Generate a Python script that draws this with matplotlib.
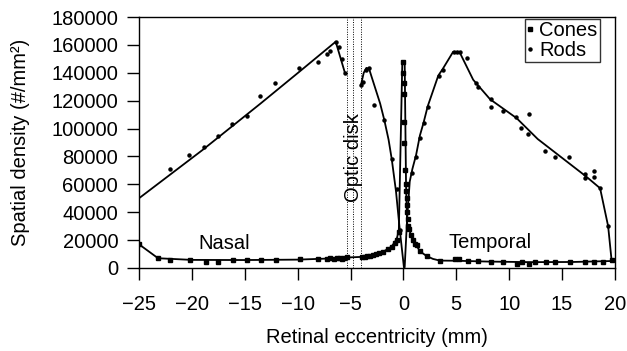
import numpy as np
import matplotlib
matplotlib.use('Agg')
import matplotlib.pyplot as plt

plt.rcParams['font.family'] = ['Liberation Sans', 'DejaVu Sans']

# fitted curves (nan breaks the rod curve across the optic disk)
rods_line_x = [-25, -19, -13.5, -9.8, -6.4, -5.53, np.nan, -4.02, -3.75, -3.5, -3.25, -3.0, -2.2, -1.8,
               -1.4, -1.1, -0.7, -0.35, 0.05, 0.12, 0.35, 0.6, 0.85, 1.2, 1.56, 1.9, 2.3, 3.3, 3.7,
               4.7, 5.3, 6.6, 8.2, 10.7, 12.7, 15.0, 17.3, 18.6, 19.36, 19.7]
rods_line_y = [50000, 84600, 118000, 141000, 162300, 140000, np.nan, 131000, 140000, 143500, 143000, 137000,
               118000, 106000, 92000, 78000, 55000, 28000, 500, 500, 35000, 62000, 71000, 81000, 95000,
               104000, 116000, 138000, 142500, 155000, 155000, 135000, 121000, 107500, 92500, 79000,
               65500, 57200, 30000, 4500]

cones_line_x = [-25, -23.2, -20, -15, -10, -7, -5.4, -3.5, -2.85, -1.9, -1.12, -0.64, -0.43, -0.1, 0.12,
                0.25, 0.35, 0.77, 1.25, 1.56, 2.19, 2.8, 3.45, 5, 8, 12, 16, 19.68]
cones_line_y = [17000, 7000, 5800, 5700, 6000, 6800, 7500, 8100, 9300, 11700, 15300, 20500, 27300, 148500,
                148500, 60000, 32000, 22500, 16000, 12000, 8600, 6500, 5300, 5200, 4600, 4200, 4300, 5000]

# measured points
rods_x = [-22.07, -20.24, -18.86, -17.56, -16.18, -14.82, -13.56, -12.17, -9.85, -8.11, -7.26, -6.95,
          -6.41, -6.1, -5.84, -5.53, -4.02, -3.8, -3.54, -3.23, -2.79, -1.81, -1.12, -0.64, -0.33,
          0.77, 1.18, 1.56, 1.94, 2.32, 3.39, 3.7, 4.77, 5.03, 5.34, 5.97, 6.82, 7.01, 8.24, 8.24,
          9.43, 10.63, 11.08, 11.86, 11.8, 13.37, 14.3, 15.67, 17.15, 17.22, 18.0, 18.0, 18.58, 19.36]
rods_y = [70800, 80800, 87000, 94700, 103500, 109000, 123600, 132700, 143600, 147500, 153700, 155800,
          162300, 158700, 149700, 140000, 131200, 133600, 142000, 143200, 116900, 106000, 78000, 57000,
          27300, 67900, 79800, 93000, 103800, 115700, 137700, 142000, 154700, 154700, 154700, 150400,
          132900, 129600, 121000, 115700, 112600, 108500, 100200, 110200, 95900, 83900, 79800, 79800,
          64300, 67200, 69800, 65500, 57200, 30100]

cones_x = [-25, -23.17, -22.07, -20.2, -18.66, -17.5, -16.14, -14.75, -13.5, -12.05, -9.78, -8.05,
           -7.26, -6.95, -6.6, -6.31, -6.0, -5.8, -5.6, -5.37, -3.9, -3.6, -3.4, -3.2, -2.9, -2.6,
           -2.3, -1.9, -1.5, -1.12, -0.8, -0.64, -0.45,
           -0.05, 0.0, 0.05, 0.05, 0.05, 0.1, 0.15, 0.2, 0.25, 0.3, 0.3, 0.35, 0.4, 0.45, 0.55, 0.7,
           0.9, 1.1, 1.25, 1.6, 2.2, 3.45, 4.87, 5.28, 6.07, 7.07, 8.27, 9.43, 10.7, 11.17, 11.9,
           12.43, 13.47, 14.32, 15.74, 17.15, 18.0, 18.83, 19.68]
cones_y = [17000, 7000, 5700, 5700, 4500, 4500, 5700, 5700, 5700, 5700, 6200, 6200,
           6200, 7000, 6500, 7000, 7200, 6800, 7000, 7700, 7800, 8000, 8300, 8500, 9300, 10000,
           10500, 11700, 13500, 15300, 18000, 20100, 26000,
           140000, 148000, 133000, 125000, 105000, 90000, 70000, 60000, 55000, 50000, 45000, 40000,
           35000, 30000, 28000, 24000, 20000, 17000, 16500, 12000, 8600, 5200, 6200, 6200, 5200,
           5200, 4100, 4100, 2900, 4500, 2900, 4100, 4100, 4500, 4500, 4100, 4500, 4500, 5700]

disk_x = [-5.35, -4.72, -4.05]

fig = plt.figure(figsize=(6.27, 3.51), dpi=100)
ax = fig.add_axes([0.2217, 0.2365, 0.759, 0.715])

for xd in disk_x:
    ax.axvline(xd, color='k', ls=(0, (1, 1.5)), lw=0.7)

ax.plot(rods_line_x, rods_line_y, color='k', lw=1.3)
ax.plot(cones_line_x, cones_line_y, color='k', lw=1.3)
ax.plot(cones_x, cones_y, ls='none', marker='s', ms=2.2, color='k', label='Cones')
ax.plot(rods_x, rods_y, ls='none', marker='o', ms=2.2, color='k', label='Rods')

fs = 14.5
ax.text(-16.95, 17900, 'Nasal', fontsize=fs, ha='center', va='center')
ax.text(8.2, 18300, 'Temporal', fontsize=fs, ha='center', va='center')
ax.text(-4.75, 79000, 'Optic disk', fontsize=fs, ha='center', va='center', rotation=90)

ax.set_xlim(-25, 20)
ax.set_ylim(0, 180000)
ax.set_xticks(np.arange(-25, 21, 5))
ax.set_yticks(np.arange(0, 180001, 20000))
ax.tick_params(direction='out', length=8.5, width=1, labelsize=fs)
ax.tick_params(axis='y', pad=6.5)
ax.tick_params(axis='x', pad=11)
for s in ax.spines.values():
    s.set_linewidth(1)

ax.set_xlabel('Retinal eccentricity (mm)', fontsize=fs, labelpad=10)
ax.set_ylabel('Spatial density (#/mm²)', fontsize=fs, labelpad=15)

leg = ax.legend(loc='upper right', bbox_to_anchor=(0.968, 0.992), borderaxespad=0,
                fontsize=fs, frameon=True, fancybox=False, edgecolor='k',
                handlelength=0.3, handletextpad=0.3, borderpad=0.1,
                labelspacing=0.05, markerscale=1.0)
leg.get_frame().set_linewidth(1)
fig.savefig('out.png', dpi=100)
